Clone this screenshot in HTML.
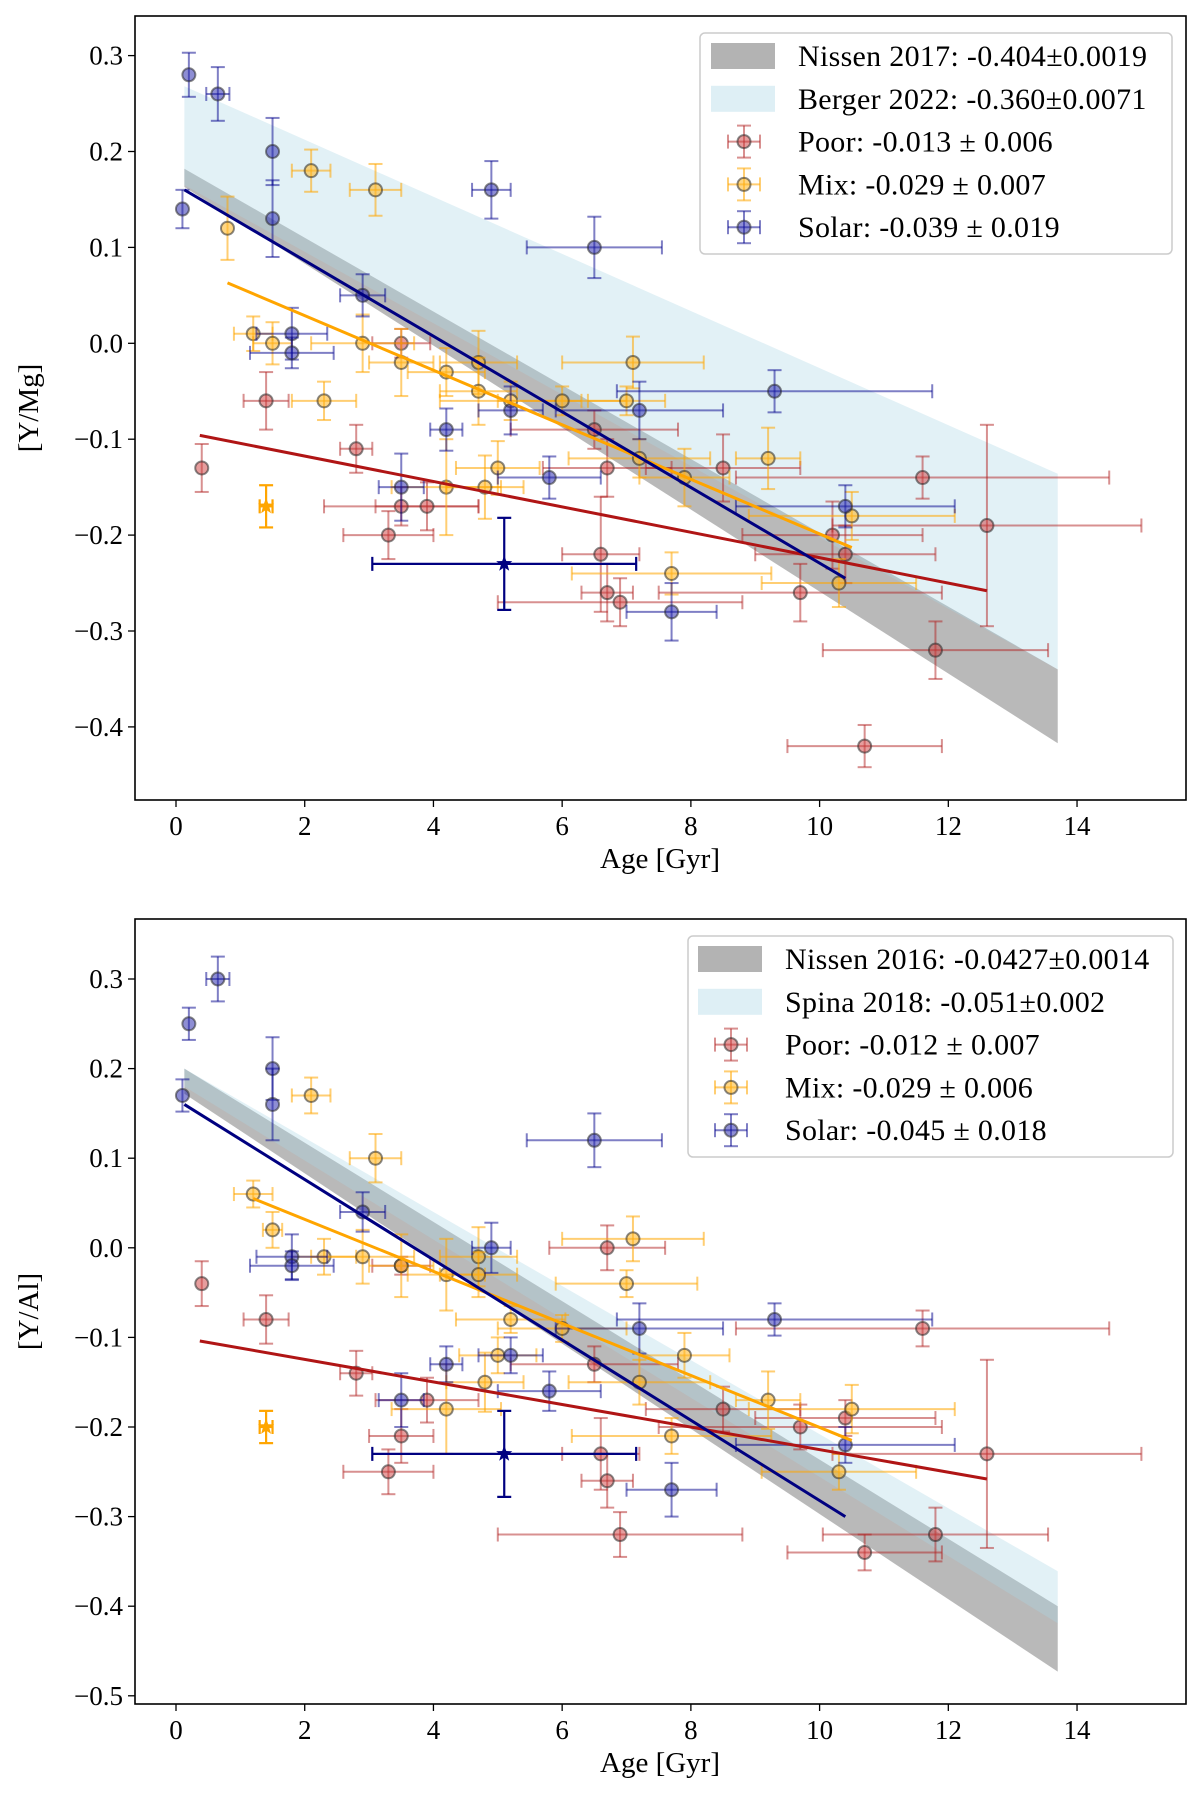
<!DOCTYPE html>
<html><head><meta charset="utf-8">
<style>
html,body{margin:0;padding:0;background:#fff;}
svg{display:block;font-family:"Liberation Serif","DejaVu Serif",serif;}
</style></head>
<body>
<svg id="fig" width="1200" height="1801" viewBox="0 0 1200 1801" xmlns="http://www.w3.org/2000/svg"></svg>
<script>
// ---------- data: top panel [Y/Mg] ----------
const ticksX = [0,2,4,6,8,10,12,14];
const ticksYTop = [0.3,0.2,0.1,0.0,-0.1,-0.2,-0.3,-0.4];
const ticksYBot = [0.3,0.2,0.1,0.0,-0.1,-0.2,-0.3,-0.4,-0.5];
// points: [age, value, xerr, yerr]
const solarTop = [[0.1,0.14,0,0.02],[0.2,0.28,0,0.023],[0.65,0.26,0.18,0.028],[1.5,0.20,0,0.035],[1.5,0.13,0,0.04],[2.9,0.05,0.35,0.022],[1.8,0.01,0.55,0.027],[1.8,-0.01,0.65,0.016],[4.9,0.16,0.3,0.03],[6.5,0.10,1.05,0.032],[9.3,-0.05,2.45,0.022],[7.2,-0.07,1.3,0.03],[5.2,-0.07,0.5,0.025],[4.2,-0.09,0.25,0.022],[3.5,-0.15,0.35,0.035],[5.8,-0.14,0.8,0.022],[7.7,-0.28,0.7,0.03],[10.4,-0.17,1.7,0.022]];
const mixTop = [[0.8,0.12,0,0.033],[2.1,0.18,0.3,0.022],[3.1,0.16,0.4,0.027],[1.2,0.01,0.3,0.018],[1.5,0.0,0.3,0.022],[2.9,0.0,0.8,0.03],[2.3,-0.06,0.5,0.02],[3.5,-0.02,0.5,0.035],[4.2,-0.03,0.6,0.025],[4.7,-0.02,0.6,0.033],[4.7,-0.05,0.6,0.035],[5.2,-0.06,1.1,0.02],[6.0,-0.06,1.0,0.015],[7.1,-0.02,1.1,0.027],[7.0,-0.06,0.6,0.015],[7.2,-0.12,1.1,0.02],[7.9,-0.14,0.7,0.03],[9.2,-0.12,0.5,0.032],[5.0,-0.13,0.65,0.028],[4.2,-0.15,0.85,0.05],[4.8,-0.15,0.6,0.033],[10.5,-0.18,1.6,0.025],[7.7,-0.24,1.55,0.022],[10.3,-0.25,1.2,0.025]];
const poorTop = [[0.4,-0.13,0,0.025],[1.4,-0.06,0.35,0.03],[2.8,-0.11,0.25,0.025],[3.5,0.0,0.45,0.015],[3.5,-0.17,1.2,0.02],[3.9,-0.17,0.8,0.025],[3.3,-0.20,0.7,0.025],[6.5,-0.09,1.3,0.02],[6.7,-0.13,1.0,0.03],[8.5,-0.13,1.2,0.035],[6.6,-0.22,0.6,0.06],[6.7,-0.26,0.4,0.03],[6.9,-0.27,1.9,0.025],[9.7,-0.26,2.2,0.03],[10.2,-0.20,1.4,0.035],[10.4,-0.22,1.4,0.03],[11.6,-0.14,2.9,0.022],[12.6,-0.19,2.4,0.105],[11.8,-0.32,1.75,0.03],[10.7,-0.42,1.2,0.022]];
const starMixTop = [1.4,-0.17,0.1,0.022];
const starSolarTop = [5.1,-0.23,2.05,0.048];
const fitSolarTop = [[0.13,0.16],[10.4,-0.245]];
const fitMixTop = [[0.8,0.063],[10.5,-0.213]];
const fitPoorTop = [[0.37,-0.096],[12.6,-0.258]];
const bandGrayTop = [[0.13,0.182,0.163],[13.7,-0.34,-0.417]];
const bandBlueTop = [[0.13,0.268,0.165],[13.7,-0.136,-0.34]];
// ---------- data: bottom panel [Y/Al] ----------
const solarBot = [[0.1,0.17,0,0.018],[0.2,0.25,0,0.018],[0.65,0.30,0.18,0.025],[1.5,0.20,0,0.035],[1.5,0.16,0,0.04],[2.9,0.04,0.35,0.022],[1.8,-0.01,0.55,0.025],[1.8,-0.02,0.65,0.016],[4.9,0.0,0.3,0.028],[6.5,0.12,1.05,0.03],[9.3,-0.08,2.45,0.018],[7.2,-0.09,1.3,0.028],[5.2,-0.12,0.5,0.02],[4.2,-0.13,0.25,0.02],[3.5,-0.17,0.35,0.03],[5.8,-0.16,0.8,0.022],[7.7,-0.27,0.7,0.03],[10.4,-0.22,1.7,0.02]];
const mixBot = [[1.2,0.06,0.3,0.015],[2.1,0.17,0.3,0.02],[3.1,0.10,0.4,0.027],[1.5,0.02,0.15,0.02],[2.3,-0.01,0.5,0.02],[2.9,-0.01,0.8,0.03],[3.5,-0.02,0.5,0.035],[4.2,-0.03,0.6,0.04],[4.7,-0.01,0.6,0.033],[4.7,-0.03,0.6,0.025],[5.2,-0.08,0.85,0.015],[6.0,-0.09,1.0,0.015],[7.1,0.01,1.1,0.025],[7.0,-0.04,1.1,0.015],[7.9,-0.12,0.7,0.025],[7.2,-0.15,1.1,0.025],[5.0,-0.12,0.6,0.02],[4.8,-0.15,0.6,0.033],[4.2,-0.18,0.85,0.05],[9.2,-0.17,0.5,0.032],[10.5,-0.18,1.6,0.027],[7.7,-0.21,1.55,0.02],[10.3,-0.25,1.2,0.02]];
const poorBot = [[0.4,-0.04,0,0.025],[1.4,-0.08,0.35,0.027],[2.8,-0.14,0.25,0.025],[3.5,-0.02,0.45,0.01],[3.5,-0.21,0.5,0.03],[3.9,-0.17,0.8,0.025],[3.3,-0.25,0.7,0.025],[6.5,-0.13,1.3,0.02],[6.7,0.0,0.9,0.025],[8.5,-0.18,1.2,0.025],[6.6,-0.23,0.6,0.04],[6.7,-0.26,0.4,0.03],[6.9,-0.32,1.9,0.025],[9.7,-0.20,2.2,0.025],[10.4,-0.19,1.4,0.02],[11.6,-0.09,2.9,0.02],[12.6,-0.23,2.4,0.105],[11.8,-0.32,1.75,0.03],[10.7,-0.34,1.2,0.02]];
const starMixBot = [1.4,-0.20,0.1,0.018];
const starSolarBot = [5.1,-0.23,2.05,0.048];
const fitSolarBot = [[0.13,0.16],[10.4,-0.30]];
const fitMixBot = [[1.2,0.055],[10.5,-0.215]];
const fitPoorBot = [[0.37,-0.104],[12.6,-0.258]];
const bandGrayBot = [[0.13,0.20,0.172],[13.7,-0.40,-0.473]];
const bandBlueBot = [[0.13,0.20,0.18],[13.7,-0.361,-0.419]];

const NS = 'http://www.w3.org/2000/svg';
const svg = document.getElementById('fig');
function mk(tag, attrs, parent){ const e=document.createElementNS(NS,tag); for(const k in attrs) e.setAttribute(k,attrs[k]); (parent||svg).appendChild(e); return e; }

const COL = {poor:['rgba(178,34,34,0.5)','rgba(205,60,60,0.5)'], mix:['rgba(255,165,0,0.55)','rgba(255,180,30,0.55)'], solar:['rgba(0,0,139,0.5)','rgba(30,30,170,0.5)']};

function panel(cfg){
  const L=135,R=1186,T=cfg.top,B=cfg.bottom;
  const x = v => 176 + v*64.36;
  const y = v => cfg.y0 - v*cfg.py;
  const g = mk('g',{});
  
  
  const band=(b,fill,name)=>{ const p=mk('polygon',{points:`${x(b[0][0])},${y(b[0][1])} ${x(b[1][0])},${y(b[1][1])} ${x(b[1][0])},${y(b[1][2])} ${x(b[0][0])},${y(b[0][2])}`,fill:fill},g);
    
     };
  band(cfg.gray,'rgba(128,128,128,0.55)',cfg.grayName);
  band(cfg.blue,'rgba(173,216,230,0.35)',cfg.blueName);
  const series=(data,c,name)=>{ data.forEach(d=>{ const s=mk('g',{},g);
      
      
      const cx=x(d[0]),cy=y(d[1]);
      if(d[2]>0){ mk('line',{x1:x(d[0]-d[2]),x2:x(d[0]+d[2]),y1:cy,y2:cy,stroke:c[0],'stroke-width':2},s);
        mk('line',{x1:x(d[0]-d[2]),x2:x(d[0]-d[2]),y1:cy-7,y2:cy+7,stroke:c[0],'stroke-width':2},s);
        mk('line',{x1:x(d[0]+d[2]),x2:x(d[0]+d[2]),y1:cy-7,y2:cy+7,stroke:c[0],'stroke-width':2},s); }
      mk('line',{x1:cx,x2:cx,y1:y(d[1]-d[3]),y2:y(d[1]+d[3]),stroke:c[0],'stroke-width':2},s);
      mk('line',{x1:cx-7,x2:cx+7,y1:y(d[1]-d[3]),y2:y(d[1]-d[3]),stroke:c[0],'stroke-width':2},s);
      mk('line',{x1:cx-7,x2:cx+7,y1:y(d[1]+d[3]),y2:y(d[1]+d[3]),stroke:c[0],'stroke-width':2},s);
      mk('circle',{cx:cx,cy:cy,r:6.5,fill:c[1],stroke:'rgba(40,40,40,0.55)','stroke-width':2},s);
    }); };
  series(cfg.poor,COL.poor,'poor');
  series(cfg.mix,COL.mix,'mix');
  series(cfg.solar,COL.solar,'solar');
  const fit=(f,c,name)=>{ const l=mk('line',{x1:x(f[0][0]),y1:y(f[0][1]),x2:x(f[1][0]),y2:y(f[1][1]),stroke:c,'stroke-width':3},g);
    
     };
  fit(cfg.fitPoor,'#b01515','poor-fit-line');
  fit(cfg.fitMix,'#ffa500','mix-fit-line');
  fit(cfg.fitSolar,'#000080','solar-fit-line');
  const star=(d,c,name)=>{ const s=mk('g',{},g);
    
    
    const cx=x(d[0]),cy=y(d[1]);
    mk('line',{x1:x(d[0]-d[2]),x2:x(d[0]+d[2]),y1:cy,y2:cy,stroke:c,'stroke-width':2.2},s);
    mk('line',{x1:x(d[0]-d[2]),x2:x(d[0]-d[2]),y1:cy-7,y2:cy+7,stroke:c,'stroke-width':2.2},s);
    mk('line',{x1:x(d[0]+d[2]),x2:x(d[0]+d[2]),y1:cy-7,y2:cy+7,stroke:c,'stroke-width':2.2},s);
    mk('line',{x1:cx,x2:cx,y1:y(d[1]-d[3]),y2:y(d[1]+d[3]),stroke:c,'stroke-width':2.2},s);
    mk('line',{x1:cx-7,x2:cx+7,y1:y(d[1]-d[3]),y2:y(d[1]-d[3]),stroke:c,'stroke-width':2.2},s);
    mk('line',{x1:cx-7,x2:cx+7,y1:y(d[1]+d[3]),y2:y(d[1]+d[3]),stroke:c,'stroke-width':2.2},s);
    let pts=[]; for(let i=0;i<10;i++){const r=i%2?3.5:8.5, a=-Math.PI/2+i*Math.PI/5; pts.push((cx+r*Math.cos(a)).toFixed(1)+','+(cy+r*Math.sin(a)).toFixed(1));}
    mk('polygon',{points:pts.join(' '),fill:c},s); };
  star(cfg.starMix,'#ffa500','mix-star-marker');
  star(cfg.starSolar,'#000080','solar-star-marker');
  const fr=mk('rect',{x:L,y:T,width:R-L,height:B-T,fill:'none',stroke:'#000','stroke-width':1.6},g);
  
  
  ticksX.forEach(t=>{ mk('line',{x1:x(t),x2:x(t),y1:B,y2:B+7,stroke:'#000','stroke-width':1.3},g);
    const tx=mk('text',{x:x(t),y:B+35,'font-size':27,'text-anchor':'middle'},g); tx.textContent=t;
    
     });
  cfg.ticksY.forEach(t=>{ mk('line',{x1:L-7,x2:L,y1:y(t),y2:y(t),stroke:'#000','stroke-width':1.3},g);
    const tx=mk('text',{x:L-12,y:y(t)+9,'font-size':27,'text-anchor':'end'},g); tx.textContent=(t<0?'\u2212':'')+Math.abs(t).toFixed(1);
    
     });
  const xl=mk('text',{x:660,y:B+68,'font-size':29,'text-anchor':'middle'},g); xl.textContent='Age [Gyr]';
  
  
  const yl=mk('text',{x:0,y:0,'font-size':29,'text-anchor':'middle',transform:`translate(38,${(T+B)/2}) rotate(-90)`},g); yl.textContent=cfg.ylabel;
  
  
  const lg=cfg.legend, lgG=mk('g',{},g);
  
  
  mk('rect',{x:lg.x,y:lg.y,width:lg.w,height:lg.h,rx:5,fill:'rgba(255,255,255,0.85)',stroke:'#ccc','stroke-width':1.5},lgG);
  lg.rows.forEach((r,i)=>{ const ry=lg.r0+i*42.8; const e=mk('g',{},lgG);
    
    
    if(i<2){ mk('rect',{x:lg.sx,y:ry-13,width:64,height:26,fill:i==0?'rgba(128,128,128,0.6)':'rgba(173,216,230,0.4)'},e); }
    else { const c=[COL.poor,COL.mix,COL.solar][i-2]; const mx=lg.sx+33;
      mk('line',{x1:mx-16,x2:mx+16,y1:ry,y2:ry,stroke:c[0],'stroke-width':2},e);
      mk('line',{x1:mx-16,x2:mx-16,y1:ry-7,y2:ry+7,stroke:c[0],'stroke-width':2},e);
      mk('line',{x1:mx+16,x2:mx+16,y1:ry-7,y2:ry+7,stroke:c[0],'stroke-width':2},e);
      mk('line',{x1:mx,x2:mx,y1:ry-16,y2:ry+16,stroke:c[0],'stroke-width':2},e);
      mk('line',{x1:mx-7,x2:mx+7,y1:ry-16,y2:ry-16,stroke:c[0],'stroke-width':2},e);
      mk('line',{x1:mx-7,x2:mx+7,y1:ry+16,y2:ry+16,stroke:c[0],'stroke-width':2},e);
      mk('circle',{cx:mx,cy:ry,r:6.5,fill:c[1],stroke:'rgba(40,40,40,0.55)','stroke-width':2},e); }
    const t=mk('text',{x:lg.tx,y:ry+10,'font-size':30,'letter-spacing':0.3},e); t.textContent=r; });
}

panel({name:'y-mg-panel',top:16,bottom:800,y0:343.3,py:959,ticksY:ticksYTop,ylabel:'[Y/Mg]',
  solar:solarTop,mix:mixTop,poor:poorTop,starMix:starMixTop,starSolar:starSolarTop,
  fitSolar:fitSolarTop,fitMix:fitMixTop,fitPoor:fitPoorTop,gray:bandGrayTop,blue:bandBlueTop,
  grayName:'nissen-2017-band',blueName:'berger-2022-band',
  legend:{x:700,y:33,w:472,h:221,r0:56,sx:711,tx:798,rows:['Nissen 2017: -0.404\u00b10.0019','Berger 2022: -0.360\u00b10.0071','Poor: -0.013 \u00b1 0.006','Mix: -0.029 \u00b1 0.007','Solar: -0.039 \u00b1 0.019']}});
panel({name:'y-al-panel',top:919,bottom:1704,y0:1247.8,py:896,ticksY:ticksYBot,ylabel:'[Y/Al]',
  solar:solarBot,mix:mixBot,poor:poorBot,starMix:starMixBot,starSolar:starSolarBot,
  fitSolar:fitSolarBot,fitMix:fitMixBot,fitPoor:fitPoorBot,gray:bandGrayBot,blue:bandBlueBot,
  grayName:'nissen-2016-band',blueName:'spina-2018-band',
  legend:{x:688,y:936,w:485,h:221,r0:959,sx:698,tx:785,rows:['Nissen 2016: -0.0427\u00b10.0014','Spina 2018: -0.051\u00b10.002','Poor: -0.012 \u00b1 0.007','Mix: -0.029 \u00b1 0.006','Solar: -0.045 \u00b1 0.018']}});
</script>
</body></html>
